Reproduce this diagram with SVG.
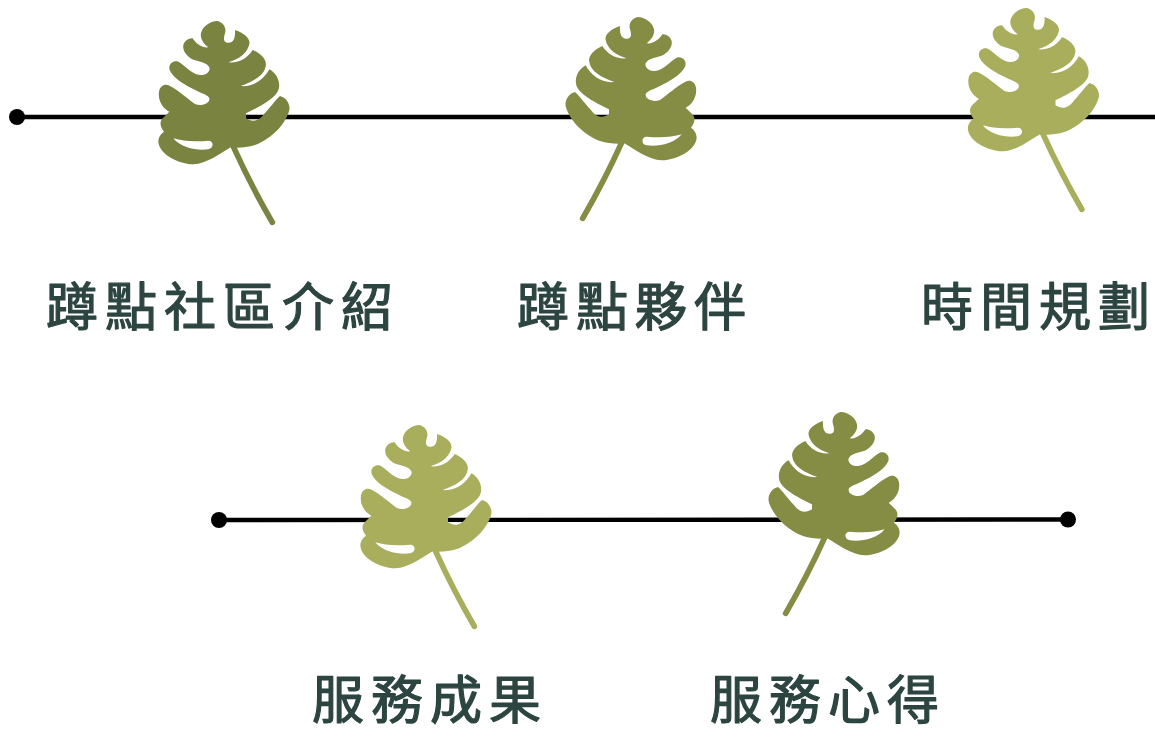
<svg xmlns="http://www.w3.org/2000/svg" width="1155" height="729" viewBox="0 0 1155 729">
<style>
.line{stroke:#000;stroke-width:4.4;fill:none}
.dot{fill:#000}
.label{font-family:"Noto Sans CJK TC","Noto Sans CJK SC",sans-serif;font-size:52px;letter-spacing:7px;fill:#2d4540;stroke:#2d4540;stroke-width:1.2px;stroke-linejoin:round}
.dark{color:#7b8341}.mid{color:#858c44}.light{color:#a8ae5c}
</style>
<defs>
<g id="leaf" transform="translate(140,10) scale(.33333)">
<path fill="currentColor" fill-rule="evenodd" d="M232,33 C250,38 260,52 255,70 C250,85 250,98 264,98 C278,99 287,88 285,60 C310,68 332,85 328,102 C324,125 302,146 265,157 C298,160 322,144 338,120 C362,130 382,150 377,168 C374,195 340,215 302,228 C340,232 372,208 388,178 C410,190 422,215 416,238 C408,265 360,290 318,310 L318,325 C340,340 360,330 372,312 C390,295 405,270 420,258 C437,262 451,280 448,300 C440,335 400,385 345,405 C320,413 290,415 272,412 C240,430 200,462 160,463 C110,460 58,432 55,395 C55,380 65,370 72,365 C60,350 58,335 68,325 L88,305 C68,295 53,270 57,245 C61,226 75,220 90,228 C115,240 140,265 165,282 C185,290 210,280 208,265 C205,255 190,252 170,242 C140,228 98,205 89,180 C84,162 100,150 115,155 C135,165 150,190 180,195 C200,197 212,182 208,172 C202,157 175,155 155,147 C138,137 125,118 131,102 C138,88 150,85 158,85 C165,98 185,115 205,112 C190,100 180,85 183,70 C187,50 210,33 232,33 Z M100,385 C130,395 170,395 205,392 C222,392 222,415 205,418 C170,422 125,415 100,385 Z"/>
<path fill="none" stroke="currentColor" stroke-width="17" stroke-linecap="round" d="M280,410 Q332,525 397,637"/>
</g>
</defs>
<g id="connectors">
<line class="line" x1="17" y1="117" x2="1155" y2="117"/>
<circle class="dot" cx="17" cy="117" r="8"/>
<line class="line" x1="219" y1="520" x2="1068" y2="519.5"/>
<circle class="dot" cx="219" cy="520" r="8"/>
<circle class="dot" cx="1068" cy="519.5" r="8"/>
</g>
<g id="node1"><use href="#leaf" class="dark"/><text class="label" x="46" y="326">蹲點社區介紹</text></g>
<g id="node2"><use href="#leaf" class="mid" transform="translate(855,-4) scale(-1,1)"/><text class="label" x="517" y="326">蹲點夥伴</text></g>
<g id="node3"><use href="#leaf" class="light" transform="translate(809.5,-13)"/><text class="label" x="921" y="326">時間規劃</text></g>
<g id="node4"><use href="#leaf" class="light" transform="translate(202,404)"/><text class="label" x="312" y="719">服務成果</text></g>
<g id="node5"><use href="#leaf" class="mid" transform="translate(1058,391) scale(-1,1)"/><text class="label" x="710" y="719">服務心得</text></g>
</svg>
